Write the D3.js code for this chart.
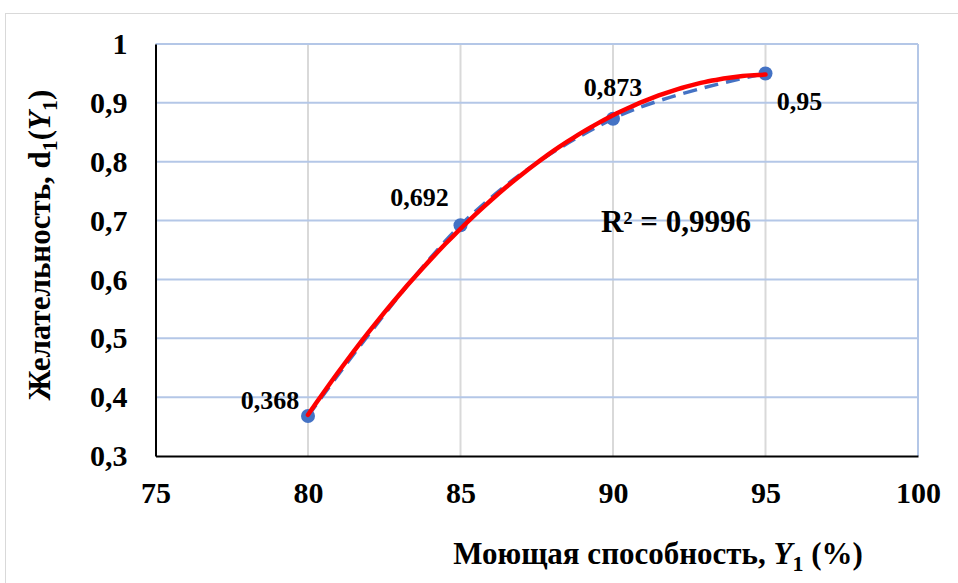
<!DOCTYPE html>
<html>
<head>
<meta charset="utf-8">
<script src="https://cdn.jsdelivr.net/npm/d3@7"></script>
</head>
<body style="margin:0">
<svg id="chart" width="958" height="583" font-family="Liberation Serif" font-weight="bold"></svg>
<script>
// Washing ability Y1 (%) versus desirability d1(Y1)
const washing = [80, 85, 90, 95];
const desirability = [0.368, 0.692, 0.873, 0.95];
const pointLabels = ["0,368", "0,692", "0,873", "0,95"];
const xTicks = [75, 80, 85, 90, 95, 100];
const yTicks = [0.3, 0.4, 0.5, 0.6, 0.7, 0.8, 0.9, 1];
const rSquaredText = "R² = 0,9996";

const FONT = "Liberation Serif";
const svg = d3.select("#chart");
const W = 958, H = 583;

// outer chart frame
svg.append("rect").attr("x", 5.5).attr("y", 13.5).attr("width", W + 10).attr("height", H + 10)
  .attr("fill", "#fff").attr("stroke", "#d9d9d9").attr("stroke-width", 1);

const x = d3.scaleLinear().domain([75, 100]).range([155.5, 918]);
const y = d3.scaleLinear().domain([0.3, 1]).range([456, 44]);

// vertical grid
svg.append("g").selectAll("line").data(xTicks.slice(1, -1)).join("line")
  .attr("x1", d => x(d)).attr("x2", d => x(d)).attr("y1", y(1)).attr("y2", y(0.3))
  .attr("stroke", "#d9d9d9").attr("stroke-width", 2);
// horizontal grid
svg.append("g").selectAll("line").data(yTicks.slice(1)).join("line")
  .attr("x1", x(75)).attr("x2", x(100)).attr("y1", d => y(d)).attr("y2", d => y(d))
  .attr("stroke", "#b4c7e7").attr("stroke-width", 2);
// right edge
svg.append("line").attr("x1", x(100)).attr("x2", x(100)).attr("y1", y(1)).attr("y2", y(0.3))
  .attr("stroke", "#b4c7e7").attr("stroke-width", 2);

// axes
const xAxis = svg.append("g").attr("transform", `translate(0,${y(0.3)})`)
  .call(d3.axisBottom(x).tickValues(xTicks).tickSize(0).tickPadding(26).tickFormat(d3.format("d")));
xAxis.attr("font-family", FONT).attr("font-size", 30);
xAxis.select(".domain").attr("stroke", "#000").attr("stroke-width", 2);
xAxis.selectAll("text").attr("fill", "#000");

const yAxis = svg.append("g").attr("transform", `translate(${x(75)},0)`)
  .call(d3.axisLeft(y).tickValues(yTicks).tickSize(0).tickPadding(28)
    .tickFormat(d => d === 1 ? "1" : d3.format(".1f")(d).replace(".", ",")));
yAxis.attr("font-family", FONT).attr("font-size", 30);
yAxis.select(".domain").attr("stroke", "#000").attr("stroke-width", 2);
yAxis.selectAll("text").attr("fill", "#000");

const pts = washing.map((v, i) => [v, desirability[i]]);

// data series: smoothed dashed line
svg.append("path").datum(pts)
  .attr("d", d3.line().x(d => x(d[0])).y(d => y(d[1])).curve(d3.curveCardinal.tension(0)))
  .attr("fill", "none").attr("stroke", "#4472c4").attr("stroke-width", 3.5)
  .attr("stroke-dasharray", "14,8");

// markers
svg.append("g").selectAll("circle").data(pts).join("circle")
  .attr("cx", d => x(d[0])).attr("cy", d => y(d[1])).attr("r", 7)
  .attr("fill", "#4472c4");

// second-order polynomial trend (least squares)
function polyFit2(xs, ys) {
  const n = xs.length;
  let s = [0, 0, 0, 0, 0], t = [0, 0, 0];
  for (let i = 0; i < n; i++) {
    for (let k = 0; k < 5; k++) s[k] += Math.pow(xs[i], k);
    for (let k = 0; k < 3; k++) t[k] += ys[i] * Math.pow(xs[i], k);
  }
  const A = [[s[0], s[1], s[2], t[0]], [s[1], s[2], s[3], t[1]], [s[2], s[3], s[4], t[2]]];
  for (let c = 0; c < 3; c++) {
    for (let r = c + 1; r < 3; r++) {
      const f = A[r][c] / A[c][c];
      for (let k = c; k < 4; k++) A[r][k] -= f * A[c][k];
    }
  }
  const b = [0, 0, 0];
  for (let r = 2; r >= 0; r--) {
    let v = A[r][3];
    for (let k = r + 1; k < 3; k++) v -= A[r][k] * b[k];
    b[r] = v / A[r][r];
  }
  return b;
}
const coef = polyFit2(washing, desirability);
const trend = d3.range(80, 95.01, 0.25).map(v => [v, coef[0] + coef[1] * v + coef[2] * v * v]);
svg.append("path").datum(trend)
  .attr("d", d3.line().x(d => x(d[0])).y(d => y(d[1])).curve(d3.curveMonotoneX))
  .attr("fill", "none").attr("stroke", "#ff0000").attr("stroke-width", 4.5)
  .attr("stroke-linecap", "round");

// point labels
const labelOffsets = [[-38, -7], [-41, -19], [0, -23], [34, 37]];
svg.append("g").selectAll("text").data(pts).join("text")
  .attr("x", (d, i) => x(d[0]) + labelOffsets[i][0])
  .attr("y", (d, i) => y(d[1]) + labelOffsets[i][1])
  .attr("text-anchor", "middle")
  .style("font-family", FONT).style("font-weight", "bold").style("font-size", "26px")
  .attr("fill", "#000")
  .text((d, i) => pointLabels[i]);

// R² annotation
svg.append("text").attr("x", 676).attr("y", 232).attr("text-anchor", "middle")
  .style("font-family", FONT).style("font-weight", "bold").style("font-size", "31px")
  .attr("fill", "#000").text(rSquaredText);

// x-axis title
const xt = svg.append("text").attr("x", 658).attr("y", 564).attr("text-anchor", "middle")
  .style("font-family", FONT).style("font-weight", "bold").style("font-size", "31px")
  .attr("fill", "#000");
xt.append("tspan").text("Моющая способность, ");
xt.append("tspan").style("font-style", "italic").text("Y");
xt.append("tspan").style("font-size", "22px").attr("dy", 7).text("1");
xt.append("tspan").attr("dy", -7).text(" (%)");

// y-axis title
const yt = svg.append("text").attr("transform", "translate(50,245) rotate(-90)")
  .attr("text-anchor", "middle")
  .style("font-family", FONT).style("font-weight", "bold").style("font-size", "31px")
  .attr("fill", "#000");
yt.append("tspan").text("Желательность, d");
yt.append("tspan").style("font-size", "22px").attr("dy", 7).text("1");
yt.append("tspan").attr("dy", -7).text("(");
yt.append("tspan").style("font-style", "italic").text("Y");
yt.append("tspan").style("font-size", "22px").attr("dy", 7).text("1");
yt.append("tspan").attr("dy", -7).text(")");
</script>
</body>
</html>
